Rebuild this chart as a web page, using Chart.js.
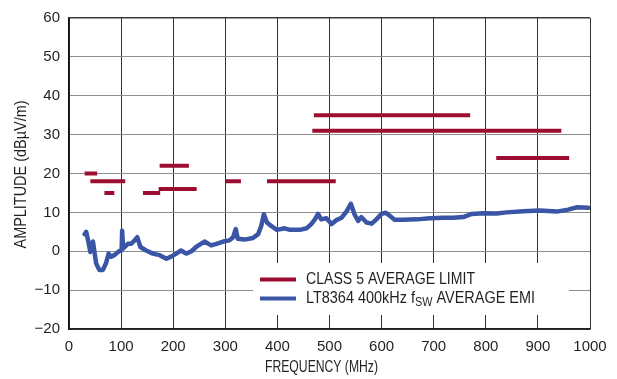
<!DOCTYPE html>
<html>
<head>
<meta charset="utf-8">
<script src="https://cdn.jsdelivr.net/npm/chart.js@4/dist/chart.umd.min.js"></script>
<style>
  html, body { margin: 0; padding: 0; background: #fff; }
  #wrap { width: 617px; height: 379px; position: relative; }
</style>
</head>
<body>
<div id="wrap"><canvas id="myChart" width="617" height="379"></canvas></div>
<script>
// limit segments: start MHz, end MHz, level dB
let limitStart = [30, 41, 76, 68, 142, 172, 174, 300, 380, 470, 467, 820];
let limitEnd   = [54, 88, 108, 87, 175, 245, 230, 330, 512, 770, 945, 960];
let limitLevel = [20, 18, 18, 15, 15, 16, 22, 18, 18, 35, 31, 24];

// measured EMI curve
let emiFreq = [30, 33, 36, 41, 46, 52, 58, 65, 71, 76, 81, 87, 96, 101, 102, 104, 113, 119, 126, 131,
    137, 148, 161, 174, 187, 196, 206, 215, 225, 235, 244, 260, 273, 283, 296, 308, 315, 320, 324, 337,
    353, 363, 369, 374, 380, 388, 399, 414, 424, 443, 456, 465, 472, 478, 484, 494, 504, 513, 523, 533,
    541, 548, 555, 561, 571, 581, 590, 600, 608, 616, 625, 641, 667, 693, 718, 737, 757, 773, 795, 821,
    840, 872, 904, 936, 958, 974, 997];
let emiLevel = [4.4, 5, 3.2, -0.2, 2.5, -3.1, -4.8, -4.8, -3.1, -0.6, -1.4, -1, 0, 0.3, 5.3, 0.7, 1.9, 1.9, 2.8, 3.6,
    1.1, 0.2, -0.6, -1, -1.9, -1.4, -0.6, 0.2, -0.6, 0, 1.1, 2.5, 1.5, 1.9, 2.5, 2.8, 3.6, 5.7, 3.2, 3,
    3.4, 4.4, 6.5, 9.5, 7.4, 6.5, 5.5, 5.9, 5.5, 5.5, 5.9, 7, 8.2, 9.6, 8.2, 8.5, 7, 8, 8.6, 10.3,
    12.2, 9.5, 7.8, 8.8, 7.4, 7.1, 8.2, 9.6, 9.9, 9.1, 8.1, 8.1, 8.2, 8.5, 8.6, 8.6, 8.8, 9.6, 9.8, 9.7,
    10, 10.3, 10.5, 10.2, 10.7, 11.3, 11.2];

let xTicks = [0, 100, 200, 300, 400, 500, 600, 700, 800, 900, 1000];
let yTicks = [-20, -10, 0, 10, 20, 30, 40, 50, 60];

const RED = '#9b0d31';
const BLUE = '#3a55a5';
const TEXT = '#231f20';
const FONT = "'Liberation Sans', Arial, sans-serif";

let limitPoints = [];
for (let i = 0; i < limitStart.length; i++) {
    limitPoints.push({ x: limitStart[i], y: limitLevel[i] });
    limitPoints.push({ x: limitEnd[i], y: limitLevel[i] });
    limitPoints.push({ x: limitEnd[i], y: null });
}
let emiPoints = emiFreq.map((f, i) => ({ x: f, y: emiLevel[i] }));

let fmt = v => (v < 0 ? '\u2212' + Math.abs(v) : '' + v);

// the original uses a condensed face, so squeeze text to the width it takes there
function fitText(c, parts, x, y, width, centred) {
    let total = 0;
    parts.forEach(p => {
        c.font = p.size + 'px ' + FONT;
        total += c.measureText(p.text).width;
    });
    let sx = width / total;
    c.save();
    c.translate(x, y);
    c.scale(sx, 1);
    let cx = centred ? -total / 2 : 0;
    c.textAlign = 'left';
    parts.forEach(p => {
        c.font = p.size + 'px ' + FONT;
        c.fillText(p.text, cx, p.dy || 0);
        cx += c.measureText(p.text).width;
    });
    c.restore();
}

let decorations = {
    id: 'decorations',
    beforeDatasetsDraw(chart) {
        const c = chart.ctx;
        c.save();
        c.fillStyle = '#fff';
        c.fillRect(253, 263, 316, 52);
        c.restore();
    },
    afterDraw(chart) {
        const c = chart.ctx;
        const area = chart.chartArea;
        c.save();
        // legend
        c.lineWidth = 4;
        c.strokeStyle = RED;
        c.beginPath(); c.moveTo(260, 279.5); c.lineTo(296, 279.5); c.stroke();
        c.strokeStyle = BLUE;
        c.beginPath(); c.moveTo(260, 298.5); c.lineTo(296, 298.5); c.stroke();
        c.fillStyle = TEXT;
        c.textBaseline = 'middle';
        fitText(c, [{ text: 'CLASS 5 AVERAGE LIMIT', size: 16 }], 306, 280, 169, false);
        fitText(c, [
            { text: 'LT8364 400kHz f', size: 16 },
            { text: 'SW', size: 12, dy: 4 },
            { text: ' AVERAGE EMI', size: 16 }
        ], 306, 299, 229, false);

        // axis titles
        fitText(c, [{ text: 'FREQUENCY (MHz)', size: 16 }], 321.5, 368, 113, true);
        c.save();
        c.translate(21.5, (area.top + area.bottom) / 2 + 1);
        c.rotate(-Math.PI / 2);
        fitText(c, [{ text: 'AMPLITUDE (dB\u00b5V/m)', size: 16 }], 0, 0, 148, true);
        c.restore();
        c.restore();
    }
};

let ctx = document.getElementById('myChart').getContext('2d');
let myChart = new Chart(ctx, {
    type: 'line',
    data: {
        datasets: [{
            label: 'CLASS 5 AVERAGE LIMIT',
            data: limitPoints,
            borderColor: RED,
            borderWidth: 4,
            borderCapStyle: 'butt',
            pointRadius: 0,
            spanGaps: false,
        }, {
            label: 'LT8364 400kHz fSW AVERAGE EMI',
            data: emiPoints,
            borderColor: BLUE,
            borderWidth: 4.5,
            borderJoinStyle: 'round',
            borderCapStyle: 'round',
            pointRadius: 0,
            tension: 0,
        }]
    },
    options: {
        responsive: false,
        animation: false,
        layout: { padding: { top: 11, right: 27, left: 0, bottom: 0 } },
        plugins: {
            legend: { display: false },
            tooltip: { enabled: false },
        },
        scales: {
            x: {
                type: 'linear',
                min: 0,
                max: 1000,
                afterBuildTicks: s => { s.ticks = xTicks.map(v => ({ value: v })); },
                afterFit: s => { s.height = 50; },
                grid: { color: '#333', lineWidth: 1, drawTicks: false },
                border: { color: '#222', width: 1.5 },
                ticks: { color: TEXT, padding: 9, font: { family: FONT, size: 15 }, maxRotation: 0, callback: fmt },
            },
            y: {
                min: -20,
                max: 60,
                afterBuildTicks: s => { s.ticks = yTicks.map(v => ({ value: v })); },
                afterFit: s => { s.width = 69; },
                grid: {
                    color: c => (c.tick && (c.tick.value === 60 || c.tick.value === -20)) ? '#3a3a3a' : '#8e8e8e',
                    lineWidth: c => (c.tick && c.tick.value === 60) ? 1.5 : 1,
                    drawTicks: false,
                },
                border: { color: '#111', width: 1.5 },
                ticks: { color: TEXT, padding: 9, font: { family: FONT, size: 15 }, callback: fmt },
            },
        },
    },
    plugins: [decorations]
});
</script>
</body>
</html>
